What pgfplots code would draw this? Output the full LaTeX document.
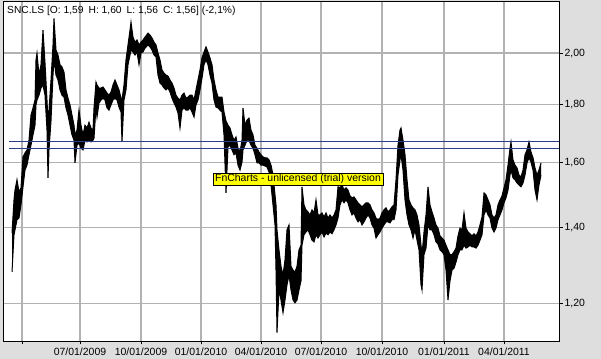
\documentclass[border=0pt]{standalone}
\usepackage{fontspec}
\setmainfont{Liberation Sans}
\usepackage{pgfplots}
\pgfplotsset{compat=1.18}
\usepackage{pgfplotstable}
\usepgfplotslibrary{fillbetween}

\definecolor{panel}{RGB}{222,222,222}
\definecolor{gridc}{RGB}{178,178,178}
\definecolor{levelc}{RGB}{40,62,140}
\definecolor{badge}{RGB}{255,255,0}
\pagecolor{panel}

% session position, low and high of each bar
\pgfplotstableread{
x lo hi
12 1.279 1.385
14 1.380 1.482
15 1.394 1.512
17 1.423 1.544
19 1.428 1.506
21 1.467 1.519
23 1.522 1.618
25 1.575 1.631
27 1.591 1.641
29 1.625 1.674
31 1.657 1.762
33 1.692 1.788
35 1.726 1.817
36 1.799 1.972
37 1.817 2.000
39 1.835 1.912
41 1.862 1.953
43 1.874 2.096
45 1.835 1.960
47 1.709 1.817
48 1.550 1.741
49 1.641 1.780
51 1.741 1.893
53 1.912 2.033
54 1.972 2.146
56 1.912 2.012
58 1.893 1.992
60 1.855 1.953
62 1.835 1.944
64 1.828 1.924
66 1.788 1.855
68 1.762 1.824
70 1.726 1.799
72 1.692 1.762
74 1.674 1.726
75 1.598 1.692
77 1.657 1.709
79 1.664 1.780
81 1.647 1.726
83 1.641 1.692
85 1.674 1.726
87 1.668 1.716
89 1.674 1.737
91 1.668 1.716
93 1.674 1.709
94 1.681 1.788
96 1.791 1.885
97 1.755 1.874
99 1.806 1.862
101 1.817 1.862
103 1.824 1.866
105 1.817 1.855
107 1.788 1.843
109 1.780 1.835
111 1.799 1.847
113 1.817 1.874
115 1.824 1.893
117 1.817 1.874
119 1.791 1.855
121 1.773 1.824
122 1.668 1.817
124 1.817 1.874
126 1.855 1.972
128 1.953 2.033
130 1.992 2.096
131 2.012 2.130
133 2.004 2.066
135 1.992 2.045
137 2.004 2.054
139 1.953 2.033
141 2.000 2.045
143 2.004 2.054
145 2.020 2.066
148 2.033 2.083
150 2.025 2.075
152 2.012 2.062
154 1.992 2.045
156 1.984 2.033
158 1.912 2.000
160 1.881 1.972
162 1.874 1.932
164 1.862 1.920
166 1.855 1.912
168 1.862 1.908
170 1.847 1.893
172 1.824 1.881
174 1.806 1.862
176 1.791 1.835
178 1.769 1.824
180 1.716 1.817
182 1.780 1.835
184 1.788 1.843
186 1.780 1.824
188 1.780 1.828
190 1.788 1.835
192 1.773 1.835
194 1.755 1.817
196 1.799 1.855
198 1.817 1.893
200 1.855 1.932
202 1.900 1.980
204 1.953 2.004
206 1.972 2.025
208 1.953 2.004
210 1.912 1.980
212 1.881 1.953
214 1.817 1.893
216 1.791 1.855
218 1.788 1.828
220 1.780 1.828
222 1.773 1.828
224 1.692 1.773
226 1.503 1.741
228 1.651 1.726
230 1.657 1.716
232 1.641 1.692
234 1.625 1.674
236 1.631 1.685
238 1.591 1.647
240 1.575 1.634
242 1.601 1.674
243 1.641 1.788
245 1.657 1.726
247 1.674 1.744
249 1.674 1.751
251 1.657 1.709
253 1.647 1.692
255 1.625 1.657
257 1.598 1.647
259 1.598 1.634
261 1.591 1.625
263 1.591 1.618
265 1.588 1.615
267 1.585 1.615
269 1.569 1.608
271 1.528 1.591
273 1.467 1.560
275 1.408 1.497
276 1.284 1.467
277 1.130 1.394
279 1.233 1.338
281 1.208 1.294
283 1.177 1.271
285 1.208 1.311
287 1.246 1.394
289 1.271 1.408
291 1.233 1.294
293 1.208 1.284
295 1.201 1.279
297 1.208 1.294
299 1.233 1.338
301 1.256 1.351
302 1.351 1.522
304 1.380 1.467
306 1.388 1.452
308 1.394 1.446
310 1.380 1.437
312 1.365 1.452
314 1.360 1.443
316 1.380 1.482
318 1.371 1.437
320 1.380 1.437
322 1.388 1.443
324 1.374 1.431
326 1.385 1.443
328 1.380 1.428
330 1.388 1.437
332 1.383 1.428
334 1.394 1.437
336 1.408 1.452
338 1.428 1.522
340 1.467 1.519
342 1.482 1.528
344 1.473 1.512
346 1.482 1.519
348 1.473 1.512
350 1.452 1.494
352 1.437 1.488
354 1.443 1.491
356 1.428 1.482
358 1.417 1.473
360 1.423 1.467
362 1.408 1.461
364 1.417 1.467
366 1.428 1.473
368 1.437 1.473
370 1.428 1.467
372 1.408 1.452
374 1.399 1.443
376 1.371 1.428
378 1.380 1.423
380 1.388 1.428
382 1.399 1.443
384 1.408 1.452
386 1.417 1.458
388 1.417 1.446
390 1.414 1.452
392 1.423 1.461
394 1.423 1.467
396 1.452 1.544
398 1.559 1.657
400 1.608 1.709
401 1.625 1.716
403 1.575 1.674
405 1.482 1.625
407 1.437 1.544
409 1.408 1.482
411 1.394 1.467
413 1.371 1.458
415 1.394 1.452
417 1.365 1.437
419 1.338 1.408
421 1.246 1.351
422 1.233 1.325
424 1.325 1.388
426 1.343 1.437
428 1.408 1.522
430 1.394 1.467
432 1.394 1.446
434 1.380 1.428
436 1.360 1.408
438 1.354 1.399
440 1.338 1.377
442 1.333 1.371
444 1.325 1.365
446 1.284 1.351
448 1.208 1.338
450 1.256 1.325
452 1.284 1.325
454 1.289 1.333
456 1.305 1.343
458 1.325 1.377
460 1.338 1.399
462 1.338 1.394
464 1.351 1.443
466 1.343 1.399
468 1.346 1.388
470 1.351 1.383
472 1.346 1.377
474 1.346 1.383
476 1.343 1.377
478 1.351 1.388
480 1.365 1.408
482 1.380 1.431
484 1.437 1.503
486 1.452 1.497
488 1.437 1.482
490 1.428 1.467
492 1.399 1.437
494 1.388 1.428
496 1.399 1.437
498 1.423 1.467
500 1.437 1.482
502 1.452 1.494
504 1.473 1.519
506 1.488 1.544
508 1.512 1.591
510 1.559 1.647
511 1.575 1.668
513 1.550 1.608
515 1.544 1.591
517 1.534 1.582
519 1.528 1.559
521 1.522 1.553
523 1.534 1.575
525 1.559 1.625
527 1.598 1.641
529 1.615 1.668
531 1.601 1.634
533 1.575 1.615
535 1.512 1.582
537 1.482 1.559
539 1.528 1.575
541 1.559 1.598
}\prices

\begin{document}
\begin{tikzpicture}
\begin{axis}[
  set layers,
  at={(3bp,18bp)}, anchor=south west,
  scale only axis, width=556bp, height=340bp,
  xmin=3, xmax=559,
  ymode=log, ymin=1.111, ymax=2.224,
  axis background/.style={fill=white},
  axis line style={black, line width=0.8pt},
  xmajorgrids=true, ymajorgrids=true,
  major grid style={draw=gridc, line width=1.2bp},
  xtick={22,80,141,201,261,321,382,444,504},
  xticklabels={,07/01/2009,10/01/2009,01/01/2010,04/01/2010,07/01/2010,10/01/2010,01/01/2011,04/01/2011},
  ytick={1.2,1.4,1.6,1.8,2.0},
  yticklabels={{1,20},{1,40},{1,60},{1,80},{2,00}},
  yminorticks=false,
  xtick pos=bottom, ytick pos=right,
  tick align=outside,
  major tick length=3.5bp,
  major tick style={black, line width=0.8pt},
  ticklabel style={font=\fontsize{10.5}{12}\selectfont},
  yticklabel style={anchor=west, xshift=-1.5bp},
  xticklabel style={yshift=0.5bp},
  clip=true,
]
\addplot[name path=hi, black, line width=1pt] table[x=x, y=hi] {\prices};
\addplot[name path=lo, black, line width=1pt] table[x=x, y=lo] {\prices};
\addplot[black] fill between[of=hi and lo];

% resistance levels
\addplot[levelc, line width=0.8pt] coordinates {(9,1.670) (559,1.670)};
\addplot[levelc, line width=0.8pt] coordinates {(9,1.647) (559,1.647)};

\node[fill=badge, draw=black, line width=0.5pt, inner xsep=2bp, inner ysep=1.4bp,
      font=\fontsize{10.5}{12}\selectfont] at (axis cs:298,1.546)
      {FnCharts - unlicensed (trial) version};
\end{axis}
\node[anchor=base west, inner sep=0pt, font=\fontsize{10.3}{12}\selectfont] at (7bp,345bp)
  {SNC.LS [O: 1,59\hspace{5bp}H: 1,60\hspace{5bp}L: 1,56\hspace{5bp}C: 1,56] (-2,1\%)};
\pgfresetboundingbox
\useasboundingbox (0,0) rectangle (601bp,359bp);
\end{tikzpicture}
\end{document}
